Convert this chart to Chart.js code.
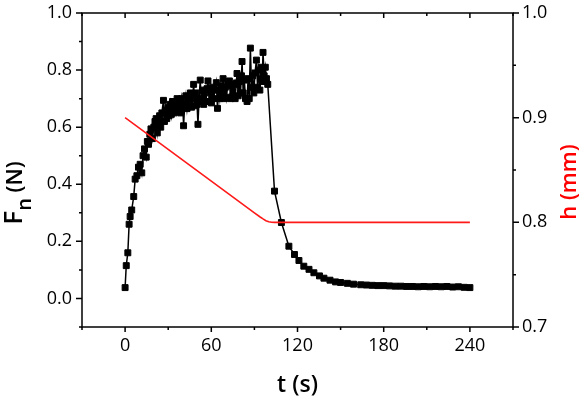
<!DOCTYPE html>
<html><head><meta charset="utf-8">
<script src="https://cdn.jsdelivr.net/npm/chart.js@4/dist/chart.umd.min.js"></script>
<style>html,body{margin:0;padding:0;background:#fff;}#wrap{width:582px;height:399px;position:relative;}</style>
</head><body><div id="wrap"><canvas id="c"></canvas></div>
<script>
// ---- data ----
const timeF = [0,0.8,1.9,2.8,3.5,4.6,6.0,7.0,8.2,9.3,10.5,11.6,12.5,13.5,14.7,15.5,16.3,17.2,18.0,19.0,
  20.0,20.8,21.6,22.4,23.2,24.0,24.8,25.6,26.7,27.4,28.2,29.0,29.8,30.6,31.4,32.2,33.0,33.8,34.6,35.4,36.2,37.0,37.8,38.6,39.4,40.2,40.7,
  41.5,42.3,43.1,43.9,44.7,45.5,46.3,47.0,47.7,48.5,49.3,50.1,50.7,51.5,52.3,53.1,53.9,54.7,55.5,56.3,57.0,57.7,58.5,59.3,60.1,60.9,61.7,62.5,63.5,
  64.3,65.1,65.9,66.7,67.5,68.2,69.0,69.8,70.6,71.4,72.6,73.4,74.2,75.0,75.8,76.6,77.4,77.9,78.7,79.5,80.3,81.0,81.4,82.2,83.0,83.8,84.9,85.6,86.4,
  87.2,88.0,88.8,89.6,90.4,91.4,92.2,93.0,93.8,94.6,95.4,96.0,96.8,97.6,98.4,99.3,
  104,108.8,114,117.9,121,124.4,128,131.4,135.3,138.4,142.6,146.5,150,154.7,159,164,168,172,176,180,184,188,192,196,200,204,208,212,216,220,224,228,232,236,240];
const forceN = [0.038,0.115,0.16,0.26,0.287,0.31,0.357,0.418,0.43,0.46,0.47,0.44,0.50,0.524,0.495,0.55,0.54,0.575,0.594,0.56,
  0.60,0.62,0.63,0.58,0.61,0.64,0.60,0.65,0.694,0.62,0.66,0.63,0.67,0.64,0.68,0.645,0.69,0.65,0.68,0.655,0.70,0.66,0.69,0.65,0.70,0.67,0.605,
  0.68,0.71,0.665,0.70,0.675,0.72,0.67,0.70,0.75,0.675,0.72,0.68,0.61,0.70,0.765,0.69,0.73,0.68,0.72,0.69,0.735,0.762,0.69,0.73,0.685,0.74,0.70,0.73,0.756,
  0.666,0.73,0.70,0.745,0.71,0.77,0.70,0.74,0.705,0.75,0.762,0.70,0.745,0.71,0.75,0.70,0.755,0.788,0.71,0.76,0.72,0.78,0.83,0.72,0.765,0.70,0.69,0.77,0.70,
  0.877,0.74,0.78,0.72,0.79,0.835,0.74,0.80,0.73,0.81,0.76,0.862,0.78,0.81,0.77,0.75,
  0.376,0.266,0.183,0.154,0.133,0.113,0.102,0.09,0.079,0.071,0.064,0.058,0.056,0.053,0.05,0.048,0.047,0.046,0.045,0.045,0.044,0.043,0.043,0.042,0.042,0.041,0.042,0.041,0.042,0.041,0.042,0.040,0.041,0.039,0.038];
const timeH = [0,30,60,90,94,96,98,100,102,104,120,160,200,240];
const heightMM = [0.900,0.8697,0.8394,0.8091,0.8051,0.8033,0.8016,0.8006,0.8001,0.8,0.8,0.8,0.8,0.8];

// ---- tick values / labels ----
const xTickValues = [-30,0,30,60,90,120,150,180,210,240,270];
const xMajor = [0,60,120,180,240];
const yTickValues = [-0.1,0.0,0.1,0.2,0.3,0.4,0.5,0.6,0.7,0.8,0.9,1.0];
const yMajor = [0.0,0.2,0.4,0.6,0.8,1.0];
const y2TickValues = [0.7,0.75,0.8,0.85,0.9,0.95,1.0];
const y2Major = [0.7,0.8,0.9,1.0];

const FONT = "'Open Sans', 'Noto Sans', sans-serif";
const tickFont = {family: FONT, size: 18, lineHeight: 1.0};

const framePlugin = {
  id: 'frame',
  afterDraw(chart) {
    const {ctx, chartArea: a, scales: {x, y, y2}} = chart;
    ctx.save();
    ctx.strokeStyle = '#000';
    ctx.lineWidth = 1.5;
    ctx.strokeRect(a.left, a.top, a.right - a.left, a.bottom - a.top);
    ctx.beginPath();
    xTickValues.forEach(v => {
      const p = x.getPixelForValue(v);
      const len = xMajor.includes(v) ? 5 : 3;
      ctx.moveTo(p, a.bottom); ctx.lineTo(p, a.bottom + len);
      ctx.moveTo(p, a.top); ctx.lineTo(p, a.top + len);
    });
    yTickValues.forEach(v => {
      const p = y.getPixelForValue(v);
      const len = yMajor.includes(v) ? 6 : 3;
      ctx.moveTo(a.left - len, p); ctx.lineTo(a.left, p);
    });
    y2TickValues.forEach(v => {
      const p = y2.getPixelForValue(v);
      const len = y2Major.includes(v) ? 6 : 3;
      ctx.moveTo(a.right, p); ctx.lineTo(a.right + len, p);
    });
    ctx.stroke();

    // left axis title F_n (N)
    ctx.save();
    ctx.translate(22, 193);
    ctx.rotate(-Math.PI / 2);
    ctx.fillStyle = '#000';
    ctx.textBaseline = 'alphabetic';
    const f1 = "600 26px " + FONT, f2 = "600 20px " + FONT, f3 = "600 22px " + FONT;
    ctx.font = f1; const w1 = ctx.measureText('F').width;
    ctx.font = f2; const w2 = ctx.measureText('n').width;
    ctx.font = f3; const w3 = ctx.measureText(' (N)').width;
    let sx = -(w1 + w2 + w3) / 2;
    ctx.font = f1; ctx.fillText('F', sx, 0); sx += w1;
    ctx.font = f2; ctx.fillText('n', sx, 9); sx += w2;
    ctx.font = f3; ctx.fillText(' (N)', sx, 0);
    ctx.restore();

    // right axis title h (mm)
    ctx.save();
    ctx.translate(576, 182);
    ctx.rotate(-Math.PI / 2);
    ctx.fillStyle = '#ff0000';
    ctx.font = "600 22px " + FONT;
    ctx.textAlign = 'center';
    ctx.textBaseline = 'alphabetic';
    ctx.fillText('h (mm)', 0, 0);
    ctx.restore();
    ctx.restore();
  }
};

new Chart(document.getElementById('c'), {
  type: 'scatter',
  data: {
    datasets: [
      {
        label: 'h',
        data: timeH.map((t, i) => ({x: t, y: heightMM[i]})),
        yAxisID: 'y2',
        showLine: true,
        borderColor: '#ff1a1a',
        backgroundColor: '#ff1a1a',
        borderWidth: 1.6,
        pointRadius: 0,
        tension: 0,
        order: 0
      },
      {
        label: 'Fn',
        data: timeF.map((t, i) => ({x: t, y: forceN[i]})),
        yAxisID: 'y',
        showLine: true,
        borderColor: '#000',
        backgroundColor: '#000',
        borderWidth: 1.5,
        pointStyle: 'rect',
        pointRadius: 4.2,
        pointBorderWidth: 1,
        pointBorderColor: '#000',
        tension: 0,
        order: 1
      }
    ]
  },
  options: {
    responsive: true,
    maintainAspectRatio: false,
    animation: false,
    devicePixelRatio: 1,
    layout: {padding: {top: 10, left: 0, right: 0, bottom: 0}},
    plugins: {legend: {display: false}, tooltip: {enabled: false}},
    scales: {
      x: {
        type: 'linear', position: 'bottom', min: -30, max: 270,
        afterBuildTicks: s => { s.ticks = xTickValues.map(v => ({value: v})); },
        afterFit: s => { s.height = 72; },
        ticks: {font: tickFont, color: '#000', padding: 5, maxRotation: 0, autoSkip: false,
          callback: v => xMajor.includes(v) ? String(v) : ''},
        grid: {display: true, drawOnChartArea: false, drawTicks: true, tickLength: 5, tickColor: 'rgba(0,0,0,0)', color: 'rgba(0,0,0,0)'},
        border: {display: false},
        title: {display: true, text: 't (s)', color: '#000',
          font: {family: FONT, size: 23, weight: '600', lineHeight: 1.1}, padding: {top: 0, bottom: 1}}
      },
      y: {
        type: 'linear', position: 'left', min: -0.1, max: 1.0,
        afterBuildTicks: s => { s.ticks = yTickValues.map(v => ({value: v})); },
        afterFit: s => { s.width = 82; },
        ticks: {font: tickFont, color: '#000', padding: 4, autoSkip: false,
          callback: v => yMajor.includes(v) ? v.toFixed(1) : ''},
        grid: {display: true, drawOnChartArea: false, drawTicks: true, tickLength: 6, tickColor: 'rgba(0,0,0,0)', color: 'rgba(0,0,0,0)'},
        border: {display: false}
      },
      y2: {
        type: 'linear', position: 'right', min: 0.7, max: 1.0,
        afterBuildTicks: s => { s.ticks = y2TickValues.map(v => ({value: v})); },
        afterFit: s => { s.width = 69; },
        ticks: {font: tickFont, color: '#000', padding: 3, autoSkip: false,
          callback: v => y2Major.includes(v) ? v.toFixed(1) : ''},
        grid: {display: true, drawOnChartArea: false, drawTicks: true, tickLength: 6, tickColor: 'rgba(0,0,0,0)', color: 'rgba(0,0,0,0)'},
        border: {display: false}
      }
    }
  },
  plugins: [framePlugin]
});
</script>
</body></html>
